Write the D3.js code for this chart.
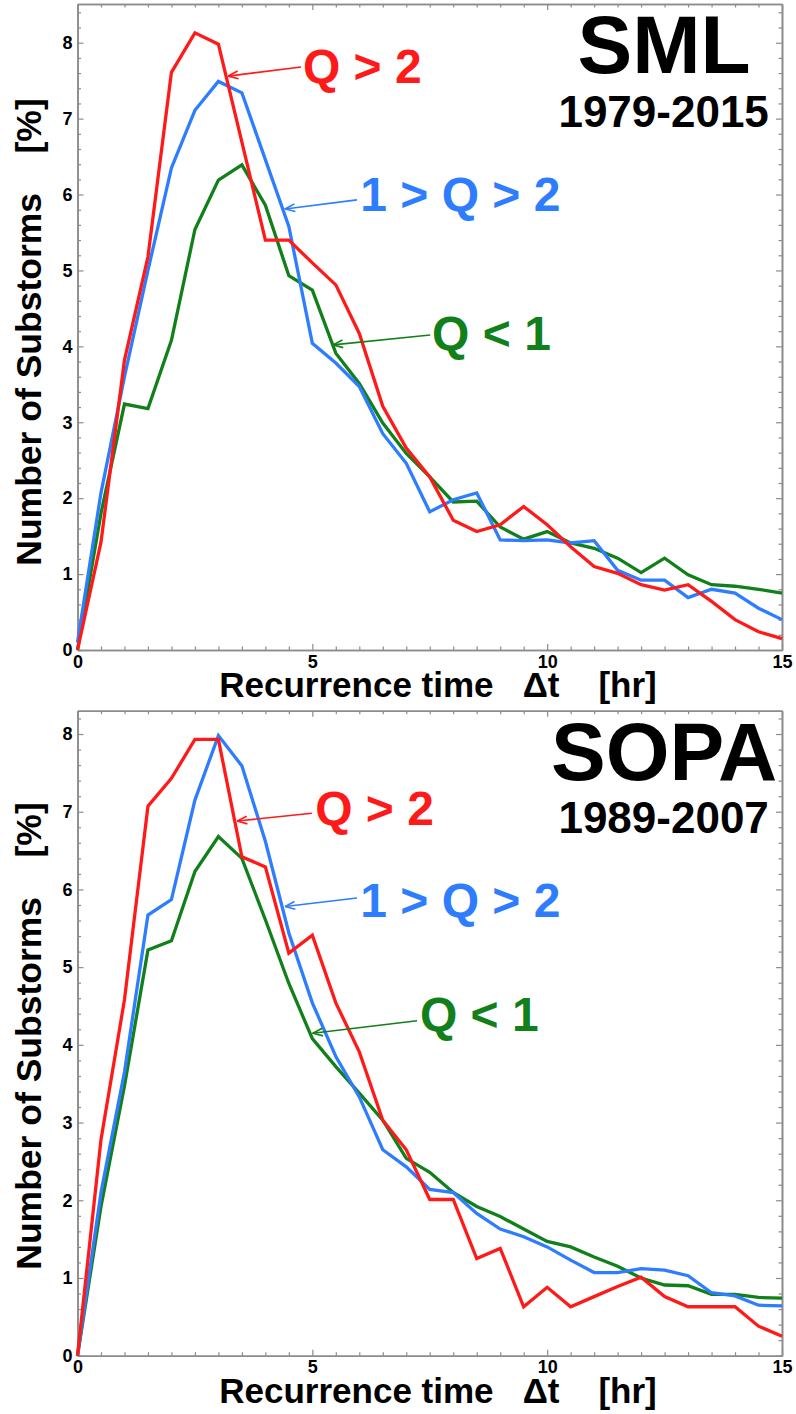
<!DOCTYPE html>
<html>
<head>
<meta charset="utf-8">
<script src="https://cdn.jsdelivr.net/npm/d3@7"></script>
<style>
  html, body { margin: 0; padding: 0; background: #fff; }
  svg { display: block; font-family: "Liberation Sans", Arial, Helvetica, sans-serif; font-weight: bold; }
  .tick text { font-family: "Liberation Sans", Arial, sans-serif; font-weight: bold; }
</style>
</head>
<body>
<svg id="chart" width="796" height="1414"></svg>
<script>
// ---------------- data ----------------
const recurrenceTime = [0,0.5,1,1.5,2,2.5,3,3.5,4,4.5,5,5.5,6,6.5,7,7.5,8,8.5,9,9.5,10,10.5,11,11.5,12,12.5,13,13.5,14,14.5,15];

// SML 1979-2015
const smlHigh = [0,1.42,3.82,5.18,7.61,8.13,7.98,6.69,5.40,5.40,5.10,4.81,4.17,3.21,2.66,2.28,1.71,1.56,1.65,1.89,1.65,1.36,1.10,1.01,0.86,0.79,0.86,0.64,0.40,0.24,0.15];
const smlMid  = [0.1,2.07,3.60,5.00,6.35,7.11,7.49,7.34,6.46,5.58,4.04,3.78,3.47,2.85,2.46,1.82,1.98,2.07,1.45,1.44,1.45,1.41,1.44,1.05,0.92,0.92,0.69,0.80,0.75,0.55,0.40];
const smlLow  = [0,1.80,3.24,3.18,4.08,5.54,6.19,6.39,5.86,4.93,4.74,3.91,3.51,2.99,2.59,2.28,1.95,1.96,1.62,1.46,1.56,1.41,1.34,1.21,1.02,1.21,0.99,0.86,0.84,0.80,0.75];

// SOPA 1989-2007
const sopaHigh = [0,2.78,4.58,7.07,7.43,7.93,7.93,6.42,6.29,5.18,5.41,4.54,3.91,3.03,2.65,2.01,2.01,1.25,1.38,0.63,0.88,0.63,0.76,0.89,1.01,0.76,0.63,0.63,0.63,0.38,0.25];
const sopaMid  = [0,2.10,3.65,5.67,5.87,7.15,7.98,7.59,6.62,5.44,4.54,3.85,3.33,2.65,2.43,2.14,2.10,1.83,1.63,1.53,1.40,1.23,1.07,1.07,1.12,1.10,1.03,0.81,0.77,0.65,0.64];
const sopaLow  = [0,1.92,3.47,5.22,5.34,6.23,6.68,6.40,5.61,4.79,4.08,3.72,3.38,3.03,2.54,2.36,2.10,1.92,1.79,1.63,1.47,1.40,1.27,1.15,1.00,0.91,0.90,0.79,0.79,0.75,0.74];

const seriesLabels = ["Q > 2", "1 > Q > 2", "Q < 1"];
const seriesColors = ["#ff1a1a", "#2e7dff", "#12801a"];
const xTickValues = [0, 5, 10, 15];
const yTickValues = [0, 1, 2, 3, 4, 5, 6, 7, 8];
const xLabel = "Recurrence time   \u0394t    [hr]";
const yLabel = "Number of Substorms    [%]";

// annotation anchors in data units: [textX, textY, tailX, tailY, tipX, tipY]
const smlAnnot = [
  [4.80, 7.47, 4.76, 7.68, 3.21, 7.56],
  [6.02, 5.78, 5.95, 5.93, 4.42, 5.81],
  [7.55, 3.95, 7.51, 4.15, 5.44, 4.02]
];
const sopaAnnot = [
  [5.06, 6.83, 4.99, 6.98, 3.40, 6.88],
  [6.02, 5.65, 5.95, 5.89, 4.42, 5.78],
  [7.29, 4.18, 7.23, 4.31, 5.01, 4.15]
];

const panels = [
  { name: "SML",  years: "1979-2015", series: [smlHigh, smlMid, smlLow],   annot: smlAnnot,
    yMax: 8.51, top: 4,     bottom: 650,    titleY: 7.60, yearsY: 6.89, yLabelMid: 332 },
  { name: "SOPA", years: "1989-2007", series: [sopaHigh, sopaMid, sopaLow], annot: sopaAnnot,
    yMax: 8.30, top: 710.7, bottom: 1355.7, titleY: 7.41, yearsY: 6.73, yLabelMid: 1036 }
];

// ---------------- drawing ----------------
const svg = d3.select("#chart");
const left = 77.5, right = 782;
const frameColor = "#8c8c8c";

const defs = svg.append("defs");
seriesColors.forEach((c, i) => {
  defs.append("marker")
    .attr("id", "arrow" + i)
    .attr("viewBox", "0 0 10 10")
    .attr("refX", 9.5).attr("refY", 5)
    .attr("markerWidth", 11).attr("markerHeight", 11)
    .attr("markerUnits", "userSpaceOnUse")
    .attr("orient", "auto")
    .append("path")
    .attr("d", "M0.5,1.5 L9.5,5 L0.5,8.5")
    .attr("fill", "none")
    .attr("stroke", c)
    .attr("stroke-width", 1.5);
});

const x = d3.scaleLinear().domain([0, 15]).range([left, right]);

panels.forEach(p => {
  const y = d3.scaleLinear().domain([0, p.yMax]).range([p.bottom, p.top]);
  const g = svg.append("g");

  const xMinor = d3.range(0, 15.001, 0.5).filter(v => Math.abs(v % 5) > 1e-6);
  const yMinor = d3.range(0, p.yMax, 0.2).filter(v => Math.abs(v - Math.round(v)) > 1e-6);

  function styleAxis(sel) {
    sel.select(".domain").attr("stroke", frameColor).attr("stroke-width", 1.6);
    sel.selectAll(".tick line").attr("stroke", frameColor).attr("stroke-width", 1.2);
    sel.selectAll(".tick text").attr("fill", "#000").attr("font-size", 18);
  }

  // bottom axis with labels
  g.append("g").attr("transform", `translate(0,${p.bottom})`)
    .call(d3.axisBottom(x).tickValues(xTickValues).tickFormat(d3.format("d")).tickSize(-6).tickSizeOuter(0).tickPadding(5))
    .call(styleAxis);
  g.append("g").attr("transform", `translate(0,${p.bottom})`)
    .call(d3.axisBottom(x).tickValues(xMinor).tickFormat("").tickSize(-3.5).tickSizeOuter(0))
    .call(styleAxis);
  // top axis
  g.append("g").attr("transform", `translate(0,${p.top})`)
    .call(d3.axisTop(x).tickValues(xTickValues).tickFormat("").tickSize(-6).tickSizeOuter(0))
    .call(styleAxis);
  g.append("g").attr("transform", `translate(0,${p.top})`)
    .call(d3.axisTop(x).tickValues(xMinor).tickFormat("").tickSize(-3.5).tickSizeOuter(0))
    .call(styleAxis);
  // left axis with labels
  g.append("g").attr("transform", `translate(${left},0)`)
    .call(d3.axisLeft(y).tickValues(yTickValues).tickFormat(d3.format("d")).tickSize(-6).tickSizeOuter(0).tickPadding(5))
    .call(styleAxis);
  g.append("g").attr("transform", `translate(${left},0)`)
    .call(d3.axisLeft(y).tickValues(yMinor).tickFormat("").tickSize(-3.5).tickSizeOuter(0))
    .call(styleAxis);
  // right axis
  g.append("g").attr("transform", `translate(${right},0)`)
    .call(d3.axisRight(y).tickValues(yTickValues).tickFormat("").tickSize(-6).tickSizeOuter(0))
    .call(styleAxis);
  g.append("g").attr("transform", `translate(${right},0)`)
    .call(d3.axisRight(y).tickValues(yMinor).tickFormat("").tickSize(-3.5).tickSizeOuter(0))
    .call(styleAxis);

  // lines
  const line = d3.line().x((d, i) => x(recurrenceTime[i])).y(d => y(d));
  [2, 1, 0].forEach(si => {
    g.append("path")
      .datum(p.series[si])
      .attr("d", line)
      .attr("fill", "none")
      .attr("stroke", seriesColors[si])
      .attr("stroke-width", 3.3)
      .attr("stroke-linejoin", "miter");
  });

  // annotations
  p.annot.forEach((a, i) => {
    g.append("line")
      .attr("x1", x(a[2])).attr("y1", y(a[3]))
      .attr("x2", x(a[4])).attr("y2", y(a[5]))
      .attr("stroke", seriesColors[i]).attr("stroke-width", 1.6)
      .attr("marker-end", "url(#arrow" + i + ")");
    g.append("text")
      .attr("x", x(a[0])).attr("y", y(a[1]))
      .attr("fill", seriesColors[i])
      .attr("font-size", 48)
      .style("white-space", "pre")
      .text(seriesLabels[i]);
  });

  // titles
  g.append("text").attr("x", x(12.49)).attr("y", y(p.titleY))
    .attr("text-anchor", "middle").attr("font-size", 82).attr("fill", "#000").text(p.name);
  g.append("text").attr("x", x(12.48)).attr("y", y(p.yearsY))
    .attr("text-anchor", "middle").attr("font-size", 44).attr("fill", "#000").text(p.years);

  // axis titles
  g.append("text")
    .attr("x", 438).attr("y", p.bottom + 47)
    .attr("text-anchor", "middle").attr("font-size", 35).attr("fill", "#000")
    .style("white-space", "pre")
    .text(xLabel);
  g.append("text")
    .attr("transform", `translate(41,${p.yLabelMid}) rotate(-90)`)
    .attr("text-anchor", "middle").attr("font-size", 35.5).attr("fill", "#000")
    .style("white-space", "pre")
    .text(yLabel);
});
</script>
</body>
</html>
